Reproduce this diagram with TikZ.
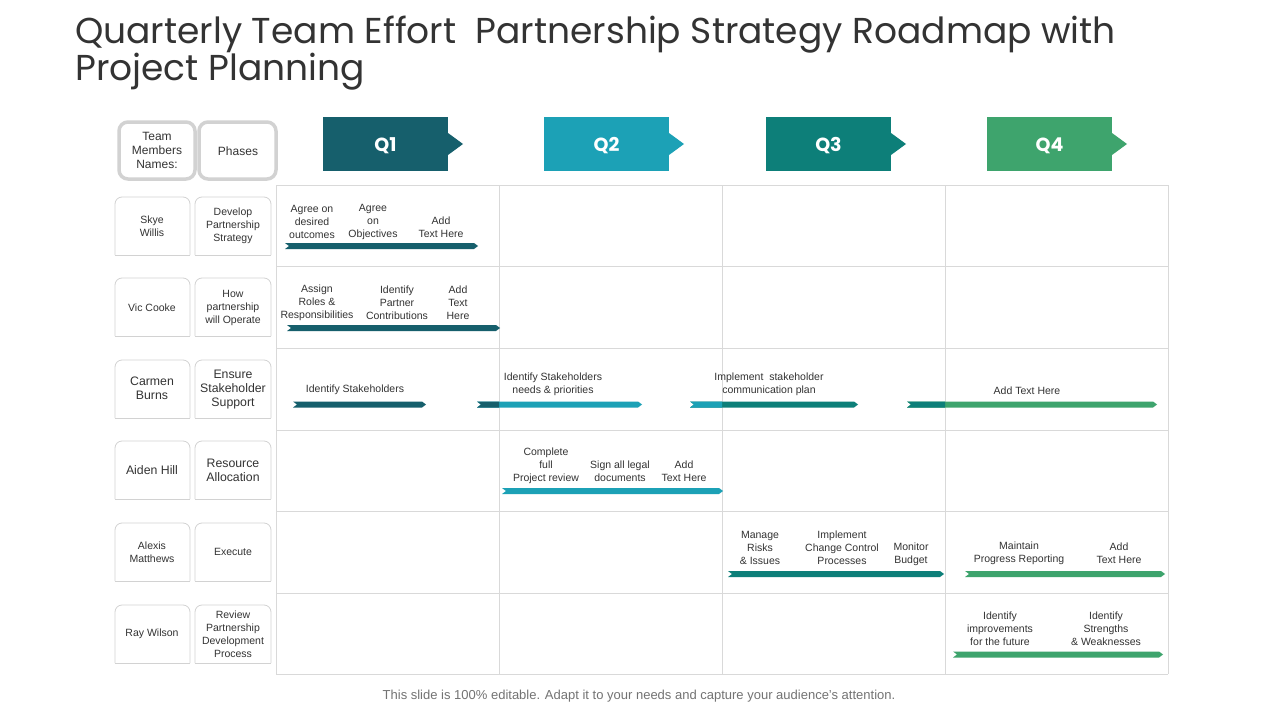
\documentclass[tikz,border=0pt]{standalone}
\usepackage{fontspec}
\setmainfont{Liberation Sans}
\newfontfamily\titlefont{Poppins}
\definecolor{qone}{HTML}{165F6C}
\definecolor{qtwo}{HTML}{1CA1B6}
\definecolor{qthree}{HTML}{0D7F79}
\definecolor{qfour}{HTML}{3EA46D}
\definecolor{gridc}{HTML}{D9D9D9}
\definecolor{txt}{HTML}{333333}
\definecolor{boxc}{HTML}{D2D2D2}
\newcommand\chev[4]{\fill[#4] (#1,#3-3) -- (#2,#3-3) -- (#2+4,#3) -- (#2,#3+3) -- (#1,#3+3) -- (#1+4,#3) -- cycle;}
\newcommand\chevleft[4]{\fill[#4] (#1,#3-3) -- (#2,#3-3) -- (#2,#3+3) -- (#1,#3+3) -- (#1+4,#3) -- cycle;}
\tikzset{
  lbl/.style={text=txt,align=center,font=\fontsize{10.5}{13}\selectfont,inner sep=0},
  big/.style={text=txt,align=center,font=\fontsize{12.3}{14}\selectfont,inner sep=0},
  qlab/.style={text=white,font=\titlefont\bfseries\fontsize{19}{22}\selectfont,inner sep=0},
  hbox/.style={draw=boxc,line width=3.5,rounded corners=9,fill=white},
  gridl/.style={draw=gridc,line width=0.9}
}
\begin{document}
\begin{tikzpicture}[x=1pt,y=-1pt]
\useasboundingbox[fill=white] (0,0) rectangle (1280,720);
% title
\node[anchor=base west,inner sep=0,text=txt,align=left,font=\titlefont\fontsize{36}{40}\selectfont] (title) at (75,43) {Quarterly Team Effort\ \ Partnership Strategy Roadmap with};
\node[anchor=base west,inner sep=0,text=txt,font=\titlefont\fontsize{36}{40}\selectfont] (title2) at (75,80) {Project Planning};
% header boxes
\draw[hbox] (119,122) rectangle (195,179);
\node[big,font=\fontsize{12}{14}\selectfont] (hteam) at (157,150) {Team\\Members\\Names:};
\draw[hbox] (199,122) rectangle (276,179);
\node[big,font=\fontsize{12}{14}\selectfont] (hphase) at (238,151) {Phases};
% quarter arrows
\foreach \x/\c/\t in {323/qone/Q1,544/qtwo/Q2,766/qthree/Q3,987/qfour/Q4}{
  \fill[\c] (\x,117) rectangle (\x+125,171);
  \fill[\c] (\x+125,133) -- (\x+140,144) -- (\x+125,155) -- cycle;
  \node[qlab] (\t) at (\x+62.5,145.5) {\t};
}
% grid
\foreach \y in {185,266,348,430,511,593,674}{\draw[gridl] (276,\y) -- (1168,\y);}
\foreach \x in {276,499,722,945,1168}{\draw[gridl] (\x,185) -- (\x,674);}
% row boxes
\foreach \y in {197,278,360,441,523,605}{
  \fill[white,rounded corners=7] (115,\y+58) -- (115,\y) -- (190,\y) -- (190,\y+58) -- cycle;
  \draw[boxc,line width=0.8,rounded corners=7] (115,\y+58) -- (115,\y) -- (190,\y) -- (190,\y+58);
  \draw[boxc,line width=0.9] (115,\y+58) -- (190,\y+58);
  \fill[white,rounded corners=7] (195,\y+58) -- (195,\y) -- (271,\y) -- (271,\y+58) -- cycle;
  \draw[boxc,line width=0.8,rounded corners=7] (195,\y+58) -- (195,\y) -- (271,\y) -- (271,\y+58);
  \draw[boxc,line width=0.9] (195,\y+58) -- (271,\y+58);
}
\node[lbl] (n1) at (152,226) {Skye\\Willis};
\node[lbl] (p1) at (233,225.5) {Develop\\Partnership\\Strategy};
\node[lbl] (n2) at (152,307.5) {Vic Cooke};
\node[lbl] (p2) at (233,307.5) {How\\partnership\\will Operate};
\node[big] (n3) at (152,388.5) {Carmen\\Burns};
\node[big] (p3) at (233,389.5) {Ensure\\Stakeholder\\Support};
\node[big] (n4) at (152,470.5) {Aiden Hill};
\node[big] (p4) at (233,470.5) {Resource\\Allocation};
\node[lbl] (n5) at (152,552) {Alexis\\Matthews};
\node[lbl] (p5) at (233,551.5) {Execute};
\node[lbl] (n6) at (152,633.5) {Ray Wilson};
\node[lbl] (p6) at (233,634) {Review\\Partnership\\Development\\Process};
% row 1
\chev{285}{474}{246}{qone}
\node[lbl] (t11) at (312,222) {Agree on\\desired\\outcomes};
\node[lbl] (t12) at (373,222) {Agree\\on\\Objectives};
\node[lbl] (t13) at (441,227) {Add\\Text Here};
% row 2
\chev{287}{496}{328}{qone}
\node[lbl] (t21) at (317,303) {Assign\\Roles \&\\Responsibilities};
\node[lbl] (t22) at (397,303) {Identify\\Partner\\Contributions};
\node[lbl] (t23) at (458,303) {Add\\Text\\Here};
% row 3
\chev{293}{422}{404.5}{qone}
\chev{477}{638}{404.5}{qtwo}
\chevleft{477}{499}{404.5}{qone}
\chev{690}{854}{404.5}{qthree}
\chevleft{690}{722}{404.5}{qtwo}
\chev{907}{1153}{404.5}{qfour}
\chevleft{907}{945}{404.5}{qthree}
\node[lbl] (t31) at (355,390) {Identify Stakeholders};
\node[lbl] (t32) at (553,384.5) {Identify Stakeholders\\needs \& priorities};
\node[lbl] (t33) at (769,384.5) {Implement\ \ stakeholder\\communication plan};
\node[lbl] (t34) at (1027,391) {Add Text Here};
% row 4
\chev{502}{719}{491}{qtwo}
\node[lbl] (t41) at (546,466) {Complete\\full\\Project review};
\node[lbl] (t42) at (620,471.5) {Sign all legal\\documents};
\node[lbl] (t43) at (684,471.5) {Add\\Text Here};
% row 5
\chev{728}{940}{574}{qthree}
\chev{965}{1161}{574}{qfour}
\node[lbl] (t51) at (760,548) {Manage\\Risks\\\& Issues};
\node[lbl] (t52) at (842,548) {Implement\\Change Control\\Processes};
\node[lbl] (t53) at (911,554) {Monitor\\Budget};
\node[lbl] (t54) at (1019,553.5) {Maintain\\Progress Reporting};
\node[lbl] (t55) at (1119,553.5) {Add\\Text Here};
% row 6
\chev{953}{1159}{654.5}{qfour}
\node[lbl] (t61) at (1000,629) {Identify\\improvements\\for the future};
\node[lbl] (t62) at (1106,629) {Identify\\Strengths\\\& Weaknesses};
% footer
\node[inner sep=0,text=black!55,font=\fontsize{13}{15}\selectfont] (foot) at (639,696.5) {This slide is 100\% editable. Adapt it to your needs and capture your audience's attention.};
\end{tikzpicture}
\end{document}
